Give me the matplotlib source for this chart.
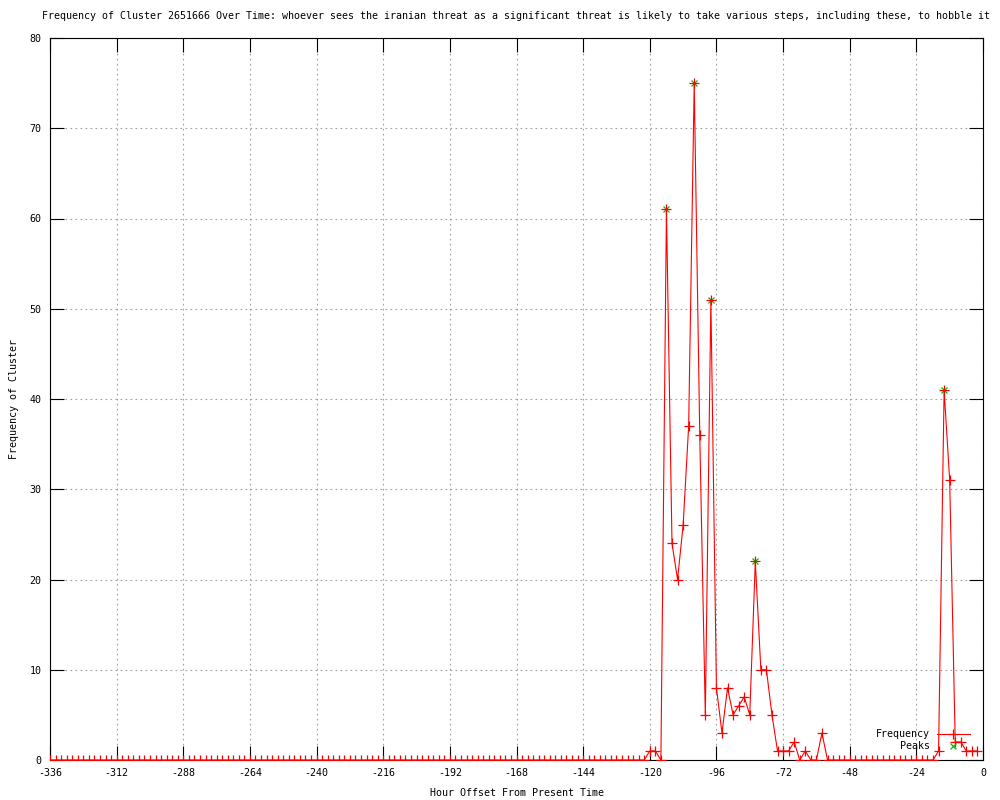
import numpy as np
import matplotlib
matplotlib.use("Agg")
import matplotlib.pyplot as plt

# hours before present, one reading every 2 hours
hours = np.arange(-336, 0, 2)

freq = [0, 0, 0, 0, 0, 0, 0, 0, 0, 0, 0, 0, 0, 0, 0, 0, 0, 0,   # -336 .. -302
        0, 0, 0, 0, 0, 0, 0, 0, 0, 0, 0, 0, 0, 0, 0, 0, 0, 0,   # -300 .. -266
        0, 0, 0, 0, 0, 0, 0, 0, 0, 0, 0, 0, 0, 0, 0, 0, 0, 0,   # -264 .. -230
        0, 0, 0, 0, 0, 0, 0, 0, 0, 0, 0, 0, 0, 0, 0, 0, 0, 0,   # -228 .. -194
        0, 0, 0, 0, 0, 0, 0, 0, 0, 0, 0, 0, 0, 0, 0, 0, 0, 0,   # -192 .. -158
        0, 0, 0, 0, 0, 0, 0, 0, 0, 0, 0, 0, 0, 0, 0, 0, 0, 0,   # -156 .. -122
        1, 1, 0, 61, 24, 20, 26, 37, 75, 36, 5, 51, 8, 3, 8, 5,  # -120 .. -90
        6, 7, 5, 22, 10, 10, 5, 1, 1, 1, 2, 0, 1, 0, 0, 3,       # -88 .. -58
        0, 0, 0, 0, 0, 0, 0, 0, 0, 0, 0, 0, 0, 0, 0, 0, 0, 0, 0, 0,  # -56 .. -18
        1, 41, 31, 2, 2, 1, 1, 1]                               # -16 .. -2

peak_hours = [-114, -104, -98, -82, -14]
peak_vals = [61, 75, 51, 22, 41]

title = ("Frequency of Cluster 2651666 Over Time: whoever sees the iranian threat "
         "as a significant threat is likely to take various steps, including these, to hobble it")
xticks = list(range(-336, 1, 24))
yticks = list(range(0, 81, 10))


def main():
    plt.rcParams['font.family'] = ['DejaVu Sans Mono']
    plt.rcParams['font.size'] = 7.2
    plt.rcParams['axes.unicode_minus'] = False

    fig = plt.figure(figsize=(10, 8), dpi=100)
    ax = fig.add_axes([0.05, 0.05, 0.933, 0.9025])

    ax.plot(hours, freq, color='red', lw=0.8, marker='+', ms=6.5, mew=0.9,
            label='Frequency', zorder=3)
    ax.plot(peak_hours, peak_vals, ls='none', color='#00c000', marker='x',
            ms=5, mew=0.9, label='    Peaks', zorder=2)

    ax.set_xlim(-336, 0)
    ax.set_ylim(0, 80)
    ax.set_xticks(xticks)
    ax.set_yticks(yticks)

    # gnuplot look: inward ticks on all sides, dotted grid
    ax.tick_params(direction='in', length=10, width=0.8, top=True, right=True,
                   labelsize=7.2, pad=6)
    ax.grid(True, color='#a0a0a0', lw=0.8, ls=(0, (1.5, 3)))
    for s in ax.spines.values():
        s.set_linewidth(0.8)

    ax.set_title(title, fontsize=7.2, pad=14)
    ax.set_xlabel('Hour Offset From Present Time', fontsize=7.2, labelpad=7)
    ax.set_ylabel('Frequency of Cluster', fontsize=7.2, labelpad=8)

    ax.legend(loc='lower right', bbox_to_anchor=(0.991, 0.005), frameon=False,
              markerfirst=False, handlelength=3.3, handletextpad=0.7,
              labelspacing=0.2, borderpad=0, fontsize=7.2, numpoints=1)

    fig.savefig('out.png', dpi=100)


if __name__ == "__main__":
    main()
